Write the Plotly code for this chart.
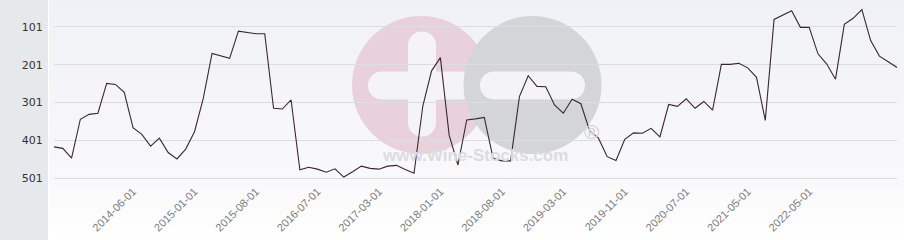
import base64
import plotly.graph_objects as go

dates = [
    "2013-09-01", "2013-10-01", "2013-11-01", "2013-12-01", "2014-01-01", "2014-02-01", "2014-03-01", "2014-04-01", "2014-05-01", "2014-06-01",
    "2014-07-01", "2014-08-01", "2014-09-01", "2014-10-01", "2014-11-01", "2014-12-01", "2015-01-01",
    "2015-02-01", "2015-03-01", "2015-04-01", "2015-05-01", "2015-06-01", "2015-07-01", "2015-08-01",
    "2015-09-01", "2015-11-01", "2016-01-01", "2016-03-01", "2016-04-01", "2016-06-01", "2016-07-01",
    "2016-08-01", "2016-09-01", "2016-10-01", "2016-12-01", "2017-01-01", "2017-02-01", "2017-03-01",
    "2017-04-01", "2017-06-01", "2017-07-01", "2017-09-01", "2017-10-01", "2017-12-01", "2018-01-01",
    "2018-02-01", "2018-03-01", "2018-04-01", "2018-05-01", "2018-06-01", "2018-07-01", "2018-08-01",
    "2018-09-01", "2018-10-01", "2018-11-01", "2018-12-01", "2019-01-01", "2019-02-01", "2019-03-01",
    "2019-04-01", "2019-05-01", "2019-06-01", "2019-07-01", "2019-09-01", "2019-10-01", "2019-11-01",
    "2019-12-01", "2020-01-01", "2020-02-01", "2020-03-01", "2020-05-01", "2020-06-01", "2020-07-01",
    "2020-08-01", "2020-10-01", "2020-11-01", "2021-01-01", "2021-02-01", "2021-04-01", "2021-05-01",
    "2021-07-01", "2021-09-01", "2021-10-01", "2021-12-01", "2022-02-01", "2022-03-01", "2022-05-01",
    "2022-06-01", "2022-07-01", "2022-08-01", "2022-09-01", "2022-10-01", "2022-11-01", "2022-12-01",
    "2023-01-01", "2023-02-01", "2023-03-01",
]

ranks = [
    418, 422, 448, 345, 332, 329, 250, 253, 274, 367,
    385, 416, 395, 433, 450, 424, 378, 290, 171, 177,
    184, 112, 115, 119, 119, 316, 318, 294, 479, 472,
    477, 485, 476, 498, 484, 469, 475, 477, 469, 467,
    478, 488, 310, 217, 182, 387, 466, 347, 344, 340,
    448, 455, 455, 285, 230, 258, 259, 307, 329, 292,
    304, 376, 395, 444, 454, 398, 381, 382, 369, 392,
    306, 311, 291, 316, 298, 321, 200, 200, 197, 209,
    234, 348, 81, 69, 58, 102, 102, 172, 199, 239,
    94, 78, 55, 137, 178, 193, 208,
]

x_tick_labels = ["2014-06-01", "2015-01-01", "2015-08-01", "2016-07-01", "2017-03-01", "2018-01-01",
                 "2018-08-01", "2019-03-01", "2019-11-01", "2020-07-01", "2021-05-01", "2022-05-01"]
y_tick_values = [101, 201, 301, 401, 501]

W, H = 904, 240
L, R, T, B = 54, 7, 0, 58
PW, PH = W - L - R, H - T - B

svg = f'''<svg xmlns="http://www.w3.org/2000/svg" width="{W}" height="{H}" viewBox="0 0 {W} {H}">
<defs><linearGradient id="g" x1="0" y1="0" x2="0" y2="1">
<stop offset="0" stop-color="#f0f1f6"/><stop offset="0.75" stop-color="#f9f9fb"/><stop offset="1" stop-color="#ffffff"/>
</linearGradient></defs>
<rect x="0" y="0" width="48" height="{H}" fill="#e6e9ec"/>
<rect x="48" y="0" width="1" height="{H}" fill="#ffffff"/>
<rect x="49" y="0" width="{W-49}" height="{H}" fill="url(#g)"/>
<circle cx="421" cy="85" r="69" fill="#e8d1db"/>
<rect x="408" y="31.5" width="28" height="105" rx="14" fill="#f4f4f8"/>
<rect x="368" y="71.5" width="108" height="28" rx="14" fill="#f4f4f8"/>
<circle cx="532.5" cy="85" r="69" fill="#d4d5d8"/>
<rect x="480" y="71.5" width="105" height="28" rx="14" fill="#f4f4f8"/>
</svg>'''
src = "data:image/svg+xml;base64," + base64.b64encode(svg.encode()).decode()

fig = go.Figure()
fig.add_trace(go.Scatter(
    x=dates, y=ranks, mode="lines",
    line=dict(color="#3b2731", width=1.1),
    hoverinfo="x+y", showlegend=False,
))

fig.add_layout_image(dict(
    source=src, xref="paper", yref="paper",
    x=-L / PW, y=1 + T / PH, sizex=W / PW, sizey=H / PH,
    xanchor="left", yanchor="top", sizing="stretch", layer="below",
))

fig.add_annotation(text="<b>www.Wine-Stocks.com</b>", xref="paper", yref="paper",
                   x=(475 - L) / PW, y=1 - (167 - T) / PH, showarrow=False,
                   font=dict(family="Liberation Sans, Arial", size=17, color="#dcdcdf"))
fig.add_annotation(text="<b>®</b>", xref="paper", yref="paper",
                   x=(592 - L) / PW, y=1 - (145 - T) / PH, showarrow=False,
                   font=dict(family="Liberation Sans, Arial", size=21, color="#d6d6d9"))

fig.update_layout(
    width=W, height=H,
    margin=dict(l=L, r=R, t=T, b=B, pad=0),
    paper_bgcolor="#ffffff", plot_bgcolor="rgba(0,0,0,0)",
    xaxis=dict(type="category", range=[0, len(dates) - 1],
               tickmode="array", tickvals=x_tick_labels, ticktext=x_tick_labels,
               tickangle=-45, showgrid=False, zeroline=False, showline=False,
               ticks="", ticklen=0,
               tickfont=dict(family="Liberation Sans, Arial", size=11, color="#7a7a7a")),
    yaxis=dict(range=[511, 29.6], tickmode="array", tickvals=y_tick_values,
               ticktext=[str(v) for v in y_tick_values],
               showgrid=True, gridcolor="#dcdde3", gridwidth=1, zeroline=False, showline=False,
               ticks="outside", ticklen=8, tickcolor="rgba(0,0,0,0)",
               tickfont=dict(family="DejaVu Sans", size=11, color="#333333")),
)

fig.write_html("out.html")
